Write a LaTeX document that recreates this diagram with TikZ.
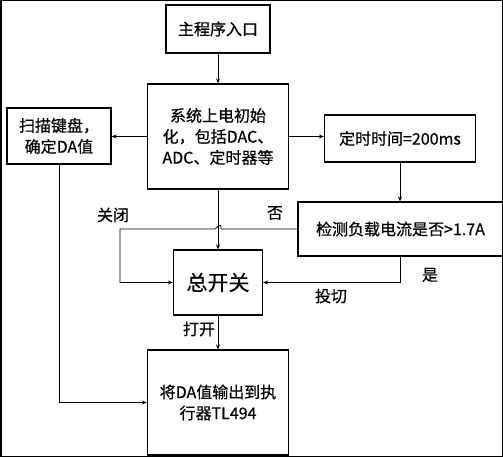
\documentclass[tikz,border=0pt]{standalone}
\usepackage{fontspec}
\setmainfont{Noto Sans CJK SC}[FakeBold=0.6]
\usetikzlibrary{arrows.meta,positioning,calc}

\begin{document}
\begin{tikzpicture}[x=1pt, y=-1pt,
    box/.style={draw, line width=1.2pt, align=center, inner sep=0pt,
        font=\fontsize{16}{21}\selectfont},
    link/.style={line width=0.8pt, -{Stealth[length=5pt, width=4pt]}},
    lbl/.style={font=\fontsize{16}{18}\selectfont}]
    \useasboundingbox (0, 0) rectangle (503, 457);
    \draw[line width=3pt] (0, 0) rectangle (503, 457);

    % Boxes
    \node[box, minimum width=104, minimum height=48] (entry) at (218, 29) {主程序入口};
    \node[box, minimum width=141, minimum height=105] (init) at (218, 136.5)
        {系统上电初始\\化，包括DAC、\\ADC、定时器等};
    \node[box, minimum width=104, minimum height=56] (scan) at (59, 136) {扫描键盘，\\确定DA值};
    \node[box, minimum width=151, minimum height=47] (timer) at (400, 138.5) {定时时间=200ms};
    \node[box, minimum width=205, minimum height=54] (detect) at (400.5, 229) {检测负载电流是否>1.7A};
    \node[box, minimum width=89, minimum height=65, font=\fontsize{21}{24}\selectfont]
        (switch) at (218, 282.5) {总开关};
    \node[box, minimum width=141, minimum height=105] (exec) at (218, 402.5)
        {将DA值输出到执\\行器TL494};

    % Main flow
    \draw[link] (entry) -- (init);
    \draw[link] (init.west) -- (init.west -| scan.east);
    \draw[link] (init.east) -- (init.east -| timer.west);
    \draw[link] (timer.south) -- (timer.south |- detect.north);
    \draw[link] (init) -- (switch);
    \draw[link] (switch) -- (exec);
    \draw[link] (scan.south) |- (exec.west);

    % Feedback from the current check
    \coordinate (noturn) at (120, 229);
    \draw[link] (detect.west) -- ($(init.south |- detect.west)+(3, 0)$)
        .. controls +(0, -5) and +(6, -5) .. ($(init.south |- detect.west)+(-3, 0)$)
        -- (noturn) |- (switch.west);
    \draw[link] (timer.south |- detect.south) |- (switch.east);

    % Labels
    \node[lbl] (lclose) at (113, 215) {关闭};
    \node[lbl] (lno) at (275, 213) {否};
    \node[lbl] (lyes) at (430, 275) {是};
    \node[lbl] (lcut) at (331, 296) {投切};
    \node[lbl] (lopen) at (199, 329) {打开};
\end{tikzpicture}
\end{document}
